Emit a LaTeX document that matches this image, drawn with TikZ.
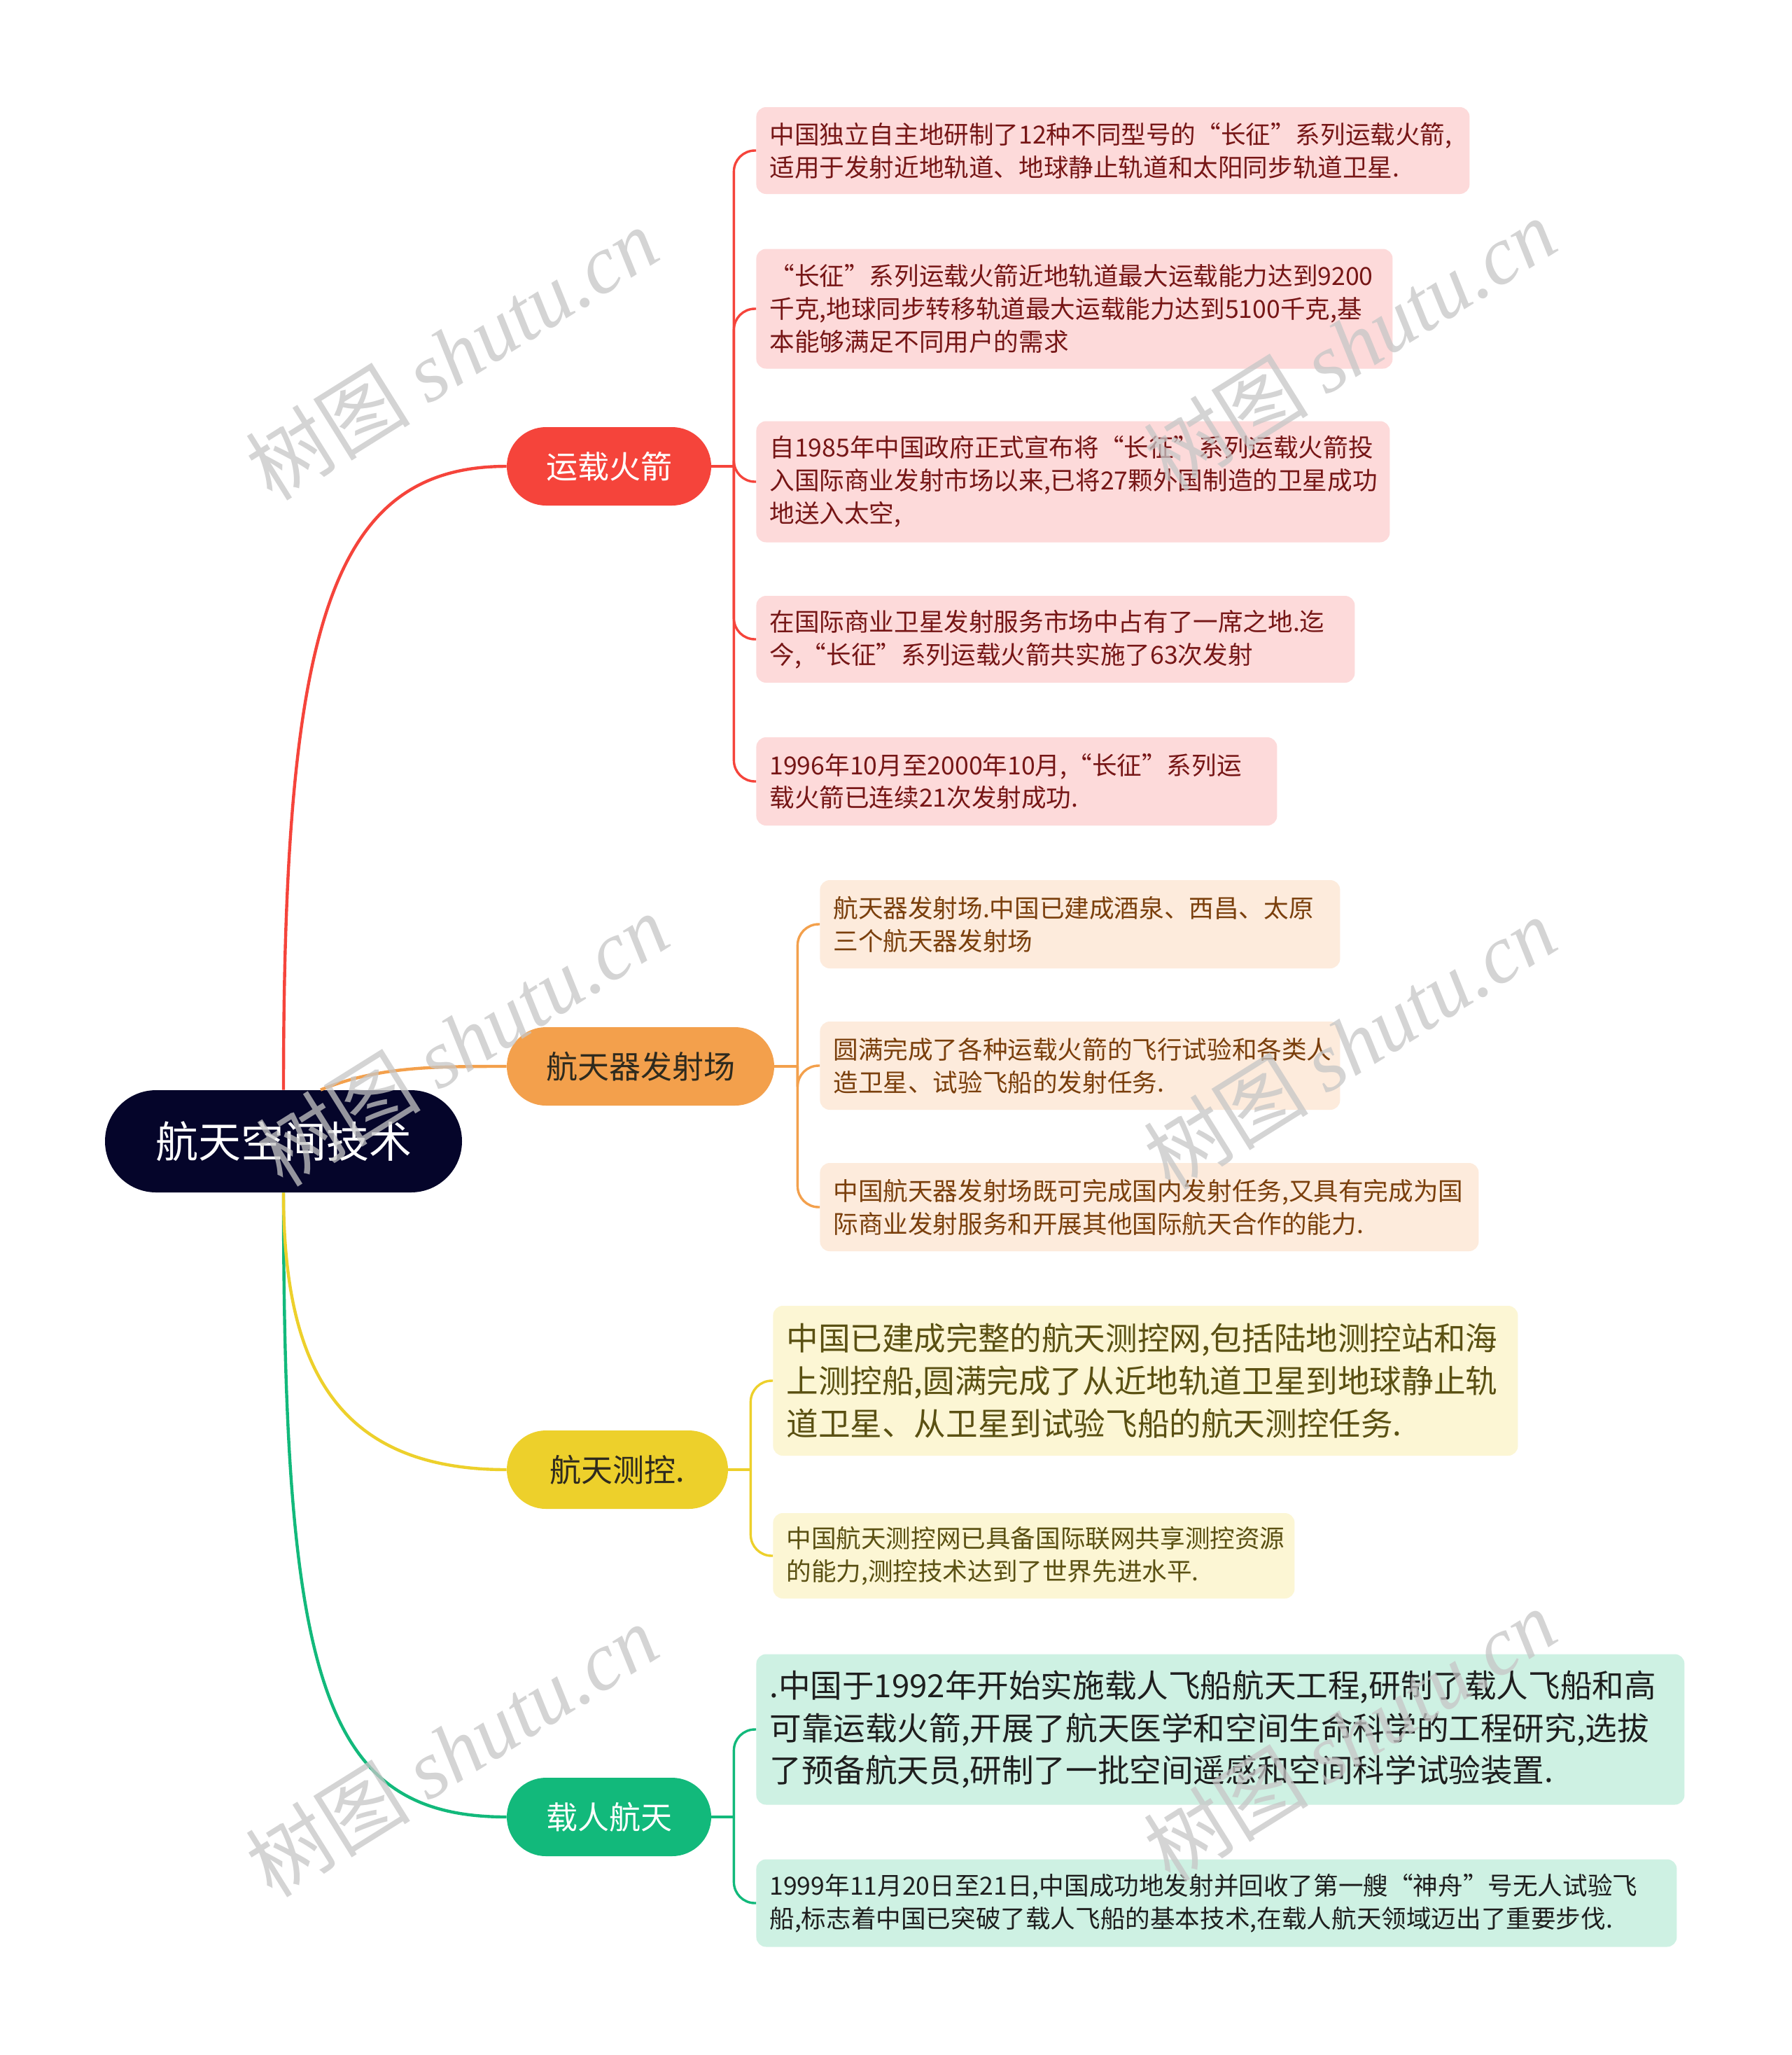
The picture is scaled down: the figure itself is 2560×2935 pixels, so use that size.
\documentclass[tikz,border=0pt]{standalone}
\usepackage{fontspec}
\setmainfont{Noto Sans CJK SC}
\newfontfamily\wmlatin{Liberation Serif}
\usepackage{xcolor}
\usepackage{tikz}
\usetikzlibrary{positioning, arrows.meta}

\definecolor{rootnavy}{HTML}{05052A}
\definecolor{rocketred}{HTML}{F5443B}
\definecolor{rocketfill}{HTML}{FDDADA}
\definecolor{rockettext}{HTML}{761616}
\definecolor{siteorange}{HTML}{F3A04C}
\definecolor{sitefill}{HTML}{FDEBDC}
\definecolor{sitetext}{HTML}{7A3F0C}
\definecolor{trackyellow}{HTML}{EDD02B}
\definecolor{trackfill}{HTML}{FCF6D4}
\definecolor{tracktext}{HTML}{5A5012}
\definecolor{crewgreen}{HTML}{12B97B}
\definecolor{crewfill}{HTML}{CEF1E3}
\definecolor{crewtext}{HTML}{1E1E1E}
\definecolor{branchdark}{HTML}{2E2A1E}

\begin{document}
\begin{tikzpicture}[
            x=0.5pt, y=-0.5pt,
            root/.style={
                    fill=rootnavy,
                    text=white,
                    rounded corners=36.5pt,
                    minimum width=255pt,
                    minimum height=73pt,
                    inner sep=0pt,
                    font=\fontsize{30.5pt}{36pt}\selectfont
                },
            branch/.style={
                    rounded corners=28pt,
                    minimum height=56pt,
                    inner sep=0pt,
                    font=\fontsize{22.5pt}{27pt}\selectfont
                },
            leaf/.style={
                    anchor=west,
                    rounded corners=7pt,
                    align=left,
                    inner xsep=9.5pt,
                    inner ysep=0pt,
                    font=\fontsize{17.8pt}{23.4pt}\selectfont
                },
            bigleaf/.style={
                    leaf,
                    font=\fontsize{22.8pt}{30.4pt}\selectfont
                },
            limb/.style={
                    line width=2.2pt
                },
            twig/.style={
                    line width=1.7pt,
                    rounded corners=15pt
                },
            wmark/.style={
                    rotate=32,
                    text=gray!45,
                    opacity=0.75,
                    font=\fontsize{59pt}{66pt}\selectfont
                }
        ]

        \fill[white] (0,0) rectangle (2560,2935);


        \node[root] (root) at (405,1630)
        {航天空间技术};


        \node[branch, fill=rocketred, text=white, minimum width=146pt] (rocket) at (870,666)
        {运载火箭};


        \node[branch, fill=siteorange, text=branchdark, minimum width=191pt] (site) at (915,1523)
        {航天器发射场};


        \node[branch, fill=trackyellow, text=branchdark, minimum width=158pt] (track) at (882,2099)
        {航天测控.};


        \node[branch, fill=crewgreen, text=white, minimum width=146pt] (crew) at (870,2595)
        {载人航天};


        \node[leaf, fill=rocketfill, text=rockettext, text width=490.5pt, minimum height=62pt] (rk1) at (1080,215)
        {中国独立自主地研制了12种不同型号的“长征”系列运载火箭,\\适用于发射近地轨道、地球静止轨道和太阳同步轨道卫星.};

        \node[leaf, fill=rocketfill, text=rockettext, text width=435.5pt, minimum height=85.5pt] (rk2) at (1080,441)
        {“长征”系列运载火箭近地轨道最大运载能力达到9200\\千克,地球同步转移轨道最大运载能力达到5100千克,基\\本能够满足不同用户的需求};

        \node[leaf, fill=rocketfill, text=rockettext, text width=433.5pt, minimum height=86.5pt] (rk3) at (1080,688)
        {自1985年中国政府正式宣布将“长征”系列运载火箭投\\入国际商业发射市场以来,已将27颗外国制造的卫星成功\\地送入太空,};

        \node[leaf, fill=rocketfill, text=rockettext, text width=408.5pt, minimum height=62pt] (rk4) at (1080,913)
        {在国际商业卫星发射服务市场中占有了一席之地.迄\\今,“长征”系列运载火箭共实施了63次发射};

        \node[leaf, fill=rocketfill, text=rockettext, text width=353pt, minimum height=63pt] (rk5) at (1080,1116)
        {1996年10月至2000年10月,“长征”系列运\\载火箭已连续21次发射成功.};


        \node[leaf, fill=sitefill, text=sitetext, text width=352.5pt, minimum height=63pt] (st1) at (1171,1320)
        {航天器发射场.中国已建成酒泉、西昌、太原\\三个航天器发射场};

        \node[leaf, fill=sitefill, text=sitetext, text width=352.5pt, minimum height=63pt] (st2) at (1171,1522)
        {圆满完成了各种运载火箭的飞行试验和各类人\\造卫星、试验飞船的发射任务.};

        \node[leaf, fill=sitefill, text=sitetext, text width=451.5pt, minimum height=63pt] (st3) at (1171,1724)
        {中国航天器发射场既可完成国内发射任务,又具有完成为国\\际商业发射服务和开展其他国际航天合作的能力.};


        \node[bigleaf, fill=trackfill, text=tracktext, text width=513pt, minimum height=107pt] (tk1) at (1104,1972)
        {中国已建成完整的航天测控网,包括陆地测控站和海\\上测控船,圆满完成了从近地轨道卫星到地球静止轨\\道卫星、从卫星到试验飞船的航天测控任务.};

        \node[leaf, fill=trackfill, text=tracktext, text width=353.5pt, minimum height=61pt] (tk2) at (1104,2222)
        {中国航天测控网已具备国际联网共享测控资源\\的能力,测控技术达到了世界先进水平.};


        \node[bigleaf, fill=crewfill, text=crewtext, text width=644pt, minimum height=107.5pt] (cw1) at (1080,2470)
        {.中国于1992年开始实施载人飞船航天工程,研制了载人飞船和高\\可靠运载火箭,开展了航天医学和空间生命科学的工程研究,选拔\\了预备航天员,研制了一批空间遥感和空间科学试验装置.};

        \node[leaf, fill=crewfill, text=crewtext, text width=638.5pt, minimum height=62.5pt] (cw2) at (1080,2718)
        {1999年11月20日至21日,中国成功地发射并回收了第一艘“神舟”号无人试验飞\\船,标志着中国已突破了载人飞船的基本技术,在载人航天领域迈出了重要步伐.};


        \draw[limb, rocketred] (root.north) .. controls (405,900) and (470,666) .. (rocket.west);
        \draw[limb, siteorange] ([xshift=26.5pt]root.north) .. controls (540,1523) and (620,1523) .. (site.west);
        \draw[limb, crewgreen] (root.south) .. controls (405,2400) and (460,2595) .. (crew.west);
        \draw[limb, trackyellow] (root.south) .. controls (405,1950) and (480,2099) .. (track.west);


        \coordinate (rocket-j) at ([xshift=16pt]rocket.east);
        \coordinate (site-j) at ([xshift=16.5pt]site.east);
        \coordinate (track-j) at ([xshift=16pt]track.east);
        \coordinate (crew-j) at ([xshift=16pt]crew.east);

        \draw[twig, rocketred](rocket.east)--(rocket-j);
        \foreach \n in {rk1,rk2,rk3,rk4,rk5}
        \draw[twig, rocketred](rocket-j) |- (\n.west);

        \draw[twig, siteorange](site.east)--(site-j);
        \foreach \n in {st1,st2,st3}
        \draw[twig, siteorange](site-j) |- (\n.west);

        \draw[twig, trackyellow](track.east)--(track-j);
        \foreach \n in {tk1,tk2}
        \draw[twig, trackyellow](track-j) |- (\n.west);

        \draw[twig, crewgreen](crew.east)--(crew-j);
        \foreach \n in {cw1,cw2}
        \draw[twig, crewgreen](crew-j) |- (\n.west);


        \node[wmark] (wm1) at (645,505) {树图 {\wmlatin\itshape shutu.cn}};
        \node[wmark] (wm2) at (1928,492) {树图 {\wmlatin\itshape shutu.cn}};
        \node[wmark] (wm3) at (660,1485) {树图 {\wmlatin\itshape shutu.cn}};
        \node[wmark] (wm4) at (1928,1490) {树图 {\wmlatin\itshape shutu.cn}};
        \node[wmark] (wm5) at (645,2500) {树图 {\wmlatin\itshape shutu.cn}};
        \node[wmark] (wm6) at (1928,2478) {树图 {\wmlatin\itshape shutu.cn}};


    \end{tikzpicture}
\end{document}
